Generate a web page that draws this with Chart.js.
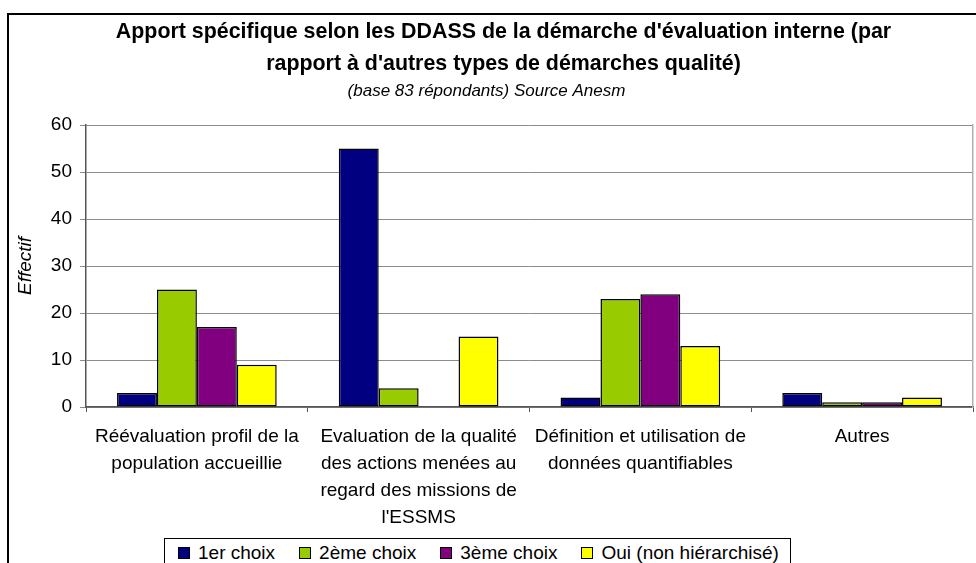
<!DOCTYPE html>
<html>
<head>
<meta charset="utf-8">
<script src="https://cdn.jsdelivr.net/npm/chart.js@4/dist/chart.umd.min.js"></script>
<style>
  html, body { margin: 0; padding: 0; background: #fff; overflow: hidden; }
  #wrap { position: relative; width: 976px; height: 563px; overflow: hidden; background: #fff; }
  #c { position: absolute; left: 0; top: 0; }
  #frame { position: absolute; left: 7px; top: 13px; width: 1000px; height: 700px;
           border: 2px solid #000; pointer-events: none; box-sizing: border-box; }
  #legend { position: absolute; left: 164px; top: 538px; width: 627px; height: 50px;
            border: 1px solid #000; background: #fff; box-sizing: border-box;
            font-family: "Liberation Sans", Arial, sans-serif; font-size: 19px; color: #000;
            display: flex; align-items: flex-start; padding-left: 13px; padding-top: 3px; }
  .item { display: flex; align-items: center; margin-right: 24px; white-space: nowrap; line-height: 22px; }
  .sw { width: 10px; height: 10px; border: 1px solid #000; margin-right: 8px; }
</style>
</head>
<body>
<div id="wrap">
  <canvas id="c" width="976" height="563"></canvas>
  <div id="frame"></div>
  <div id="legend"></div>
</div>
<script>
const categories = [
  ["Réévaluation profil de la", "population accueillie"],
  ["Evaluation de la qualité", "des actions menées au", "regard des missions de", "l'ESSMS"],
  ["Définition et utilisation de", "données quantifiables"],
  ["Autres"]
];
const seriesNames = ["1er choix", "2ème choix", "3ème choix", "Oui (non hiérarchisé)"];
const choix1 = [3, 55, 2, 3];
const choix2 = [25, 4, 23, 1];
const choix3 = [17, 0, 24, 1];
const nonHierarchise = [9, 15, 13, 2];
const yTicks = [0, 10, 20, 30, 40, 50, 60];
const seriesColors = ["#000080", "#99CC00", "#800080", "#FFFF00"];
const titleLines = ["Apport spécifique selon les DDASS de la démarche d'évaluation interne (par", "rapport à d'autres types de démarches qualité)"];
const subtitleText = "(base 83 répondants) Source Anesm";
const yTitle = "Effectif";

const FONT = '"Liberation Sans", Arial, sans-serif';
const seriesValues = [choix1, choix2, choix3, nonHierarchise];

const datasets = seriesNames.map((name, i) => ({
  label: name,
  data: seriesValues[i],
  backgroundColor: seriesColors[i],
  borderColor: "#000",
  borderWidth: 1.5,
  borderSkipped: false,
  categoryPercentage: 0.72,
  barPercentage: 1.0
}));

// The reference title is centred slightly right of the canvas centre.
const titleShift = {
  id: "titleShift",
  afterLayout(chart) { if (chart.titleBlock) chart.titleBlock.left = 34; }
};

new Chart(document.getElementById("c"), {
  type: "bar",
  data: { labels: categories, datasets },
  plugins: [titleShift],
  options: {
    responsive: false,
    animation: false,
    devicePixelRatio: 1,
    layout: { padding: { left: 0, right: 3, top: 0, bottom: 0 } },
    plugins: {
      legend: { display: false },
      tooltip: { enabled: false },
      title: {
        display: true,
        text: titleLines,
        color: "#000",
        font: { family: FONT, size: 21.4, weight: "bold", lineHeight: "32px" },
        padding: { top: 16, bottom: 0 }
      },
      subtitle: {
        display: true,
        text: subtitleText,
        color: "#000",
        font: { family: FONT, size: 17, style: "italic", lineHeight: "18px" },
        padding: { top: 2, bottom: 25 }
      }
    },
    scales: {
      x: {
        afterFit: (s) => { s.height = 156; },
        grid: { offset: true, drawOnChartArea: false, drawTicks: true, tickLength: 5, color: "#555" },
        border: { color: "#555", width: 1.5 },
        ticks: { color: "#000", font: { family: FONT, size: 19, lineHeight: "27px" }, padding: 11, maxRotation: 0, autoSkip: false }
      },
      y: {
        min: 0, max: 60,
        afterFit: (s) => { s.width = 86; },
        afterBuildTicks: (s) => { s.ticks = yTicks.map(v => ({ value: v })); },
        grid: { color: "#8c8c8c", lineWidth: 1, tickLength: 6, drawTicks: true },
        border: { color: "#555", width: 1.5 },
        ticks: { color: "#000", font: { family: FONT, size: 19 }, padding: 8 },
        title: {
          display: true, text: yTitle, color: "#000",
          font: { family: FONT, size: 19, style: "italic" },
          padding: { top: 14, bottom: 0 }
        }
      },
      yRight: {
        position: "right",
        min: 0, max: 60,
        afterFit: (s) => { s.width = 0; },
        grid: { drawOnChartArea: false, drawTicks: false },
        border: { color: "#b0b0b0", width: 1.5 },
        ticks: { display: false }
      }
    }
  }
});

const legend = document.getElementById("legend");
seriesNames.forEach((name, i) => {
  const it = document.createElement("div");
  it.className = "item";
  const sw = document.createElement("div");
  sw.className = "sw";
  sw.style.background = seriesColors[i];
  const tx = document.createElement("span");
  tx.textContent = name;
  it.appendChild(sw);
  it.appendChild(tx);
  legend.appendChild(it);
});
</script>
</body>
</html>
